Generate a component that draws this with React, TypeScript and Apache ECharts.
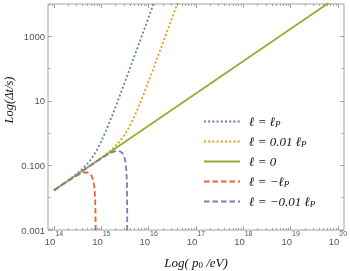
import React, { useEffect, useRef } from 'react';
import * as echarts from 'echarts';

// ---------- data ----------
// photon momentum p0 [eV]  ->  time delay Δt [s]
const P_PLUS_LP = [1e14, 1.585e14, 2.512e14, 3.162e14, 3.981e14, 5.012e14, 6.31e14, 7.943e14, 1e15, 1.259e15, 1.585e15, 1.995e15, 2.512e15, 3.162e15, 3.981e15, 5.012e15, 6.31e15, 7.943e15, 1e16, 1.259e16, 1.585e16];
const T_PLUS_LP = [0.017, 0.0272, 0.0442, 0.0576, 0.0774, 0.11, 0.169, 0.29, 0.559, 1.19, 2.72, 6.51, 15.9, 39.4, 98.4, 246, 618, 1550, 3890, 9770, 24600];

const P_PLUS_001 = [1e14, 3.162e14, 6.31e14, 1e15, 1.259e15, 1.585e15, 1.995e15, 2.512e15, 3.162e15, 3.981e15, 5.012e15, 6.31e15, 7.943e15, 1e16, 1.259e16, 1.585e16, 1.995e16, 2.512e16, 3.162e16, 3.981e16, 5.012e16];
const T_PLUS_001 = [0.017, 0.0537, 0.108, 0.174, 0.224, 0.294, 0.4, 0.581, 0.925, 1.65, 3.3, 7.22, 16.8, 40.5, 99.6, 248, 619, 1550, 3890, 9760, 24500];

const P_ZERO = [1e14, 1e20];
const T_ZERO = [0.017, 17000];

const P_MINUS_LP = [1e14, 1.585e14, 2.512e14, 3.162e14, 3.981e14, 4.467e14, 5.012e14, 5.623e14, 5.957e14, 6.31e14, 6.761e14, 7.079e14, 7.244e14, 7.413e14, 7.499e14, 7.551e14, 7.577e14];
const T_MINUS_LP = [0.0169, 0.0267, 0.0411, 0.0498, 0.0578, 0.0604, 0.0606, 0.0566, 0.0522, 0.0455, 0.0335, 0.0225, 0.0159, 0.0084, 0.00433, 0.00176, 0.00045];

const P_MINUS_001 = [1e14, 3.162e14, 1e15, 1.259e15, 1.585e15, 1.778e15, 1.995e15, 2.239e15, 2.512e15, 2.818e15, 2.985e15, 3.162e15, 3.311e15, 3.388e15, 3.467e15, 3.499e15, 3.516e15, 3.522e15];
const T_MINUS_001 = [0.017, 0.0537, 0.166, 0.204, 0.245, 0.263, 0.277, 0.283, 0.272, 0.234, 0.199, 0.149, 0.0957, 0.0637, 0.0278, 0.0122, 0.00411, 0.00083];

const SERIES_NAMES = ['ℓ = ℓP', 'ℓ = 0.01 ℓP', 'ℓ = 0', 'ℓ = −ℓP', 'ℓ = −0.01 ℓP'];
const SERIES_COLORS = ['#5E81B5', '#E19C24', '#8FB032', '#EB6235', '#8778B3'];

// ---------- axes ----------
const X_MIN = 7.464e13;
const X_MAX = 1.34e20;
const Y_MIN = 0.001;
const Y_MAX = 10000;
const X_MAJOR_TICKS = [1e14, 1e15, 1e16, 1e17, 1e18, 1e19, 1e20];
const X_TICK_EXPONENTS = ['14', '15', '16', '17', '18', '19', '20'];
const X_MINOR_MULTIPLIERS = [2, 3, 4, 5, 6, 7, 8, 9];
const Y_LABEL_TICKS = [0.001, 0.1, 10, 1000];
const Y_TICK_LABELS = ['0.001', '0.100', '10', '1000'];
const Y_PLAIN_TICKS = [0.01, 1, 100];

const lg = Math.log10;

export default function App() {
  const ref = useRef<HTMLDivElement>(null);

  useEffect(() => {
    if (!ref.current) return;
    const chart = echarts.init(ref.current, undefined, { renderer: 'svg' });

    const xMinorLog: number[] = [];
    for (let e = 13; e <= 20; e++) {
      for (const m of X_MINOR_MULTIPLIERS) {
        const v = lg(m * Math.pow(10, e));
        if (v > lg(X_MIN) && v < lg(X_MAX)) xMinorLog.push(v);
      }
    }
    const xMajorLog = X_MAJOR_TICKS.map(lg);
    const yLabelLog = Y_LABEL_TICKS.map(lg);
    const yPlainLog = Y_PLAIN_TICKS.map(lg);

    const frame = '#a3a3a3';
    const labelColor = '#555';
    const sans = 'Liberation Sans, Arial, sans-serif';
    const serif = 'Liberation Serif, Times New Roman, serif';

    const baseX = {
      type: 'value' as const,
      min: lg(X_MIN),
      max: lg(X_MAX),
      axisLine: { show: false, onZero: false },
      splitLine: { show: false },
    };
    const baseY = {
      type: 'value' as const,
      min: lg(Y_MIN),
      max: lg(Y_MAX),
      axisLine: { show: false, onZero: false },
      splitLine: { show: false },
    };
    const tick = (vals: number[], len: number) => ({
      show: true,
      inside: true,
      length: len,
      customValues: vals,
      lineStyle: { color: frame, width: 1 },
    });

    const pairs = (p: number[], t: number[]) => p.map((v, i) => [lg(v), lg(t[i])]);
    const dataSets = [
      pairs(P_PLUS_LP, T_PLUS_LP),
      pairs(P_PLUS_001, T_PLUS_001),
      pairs(P_ZERO, T_ZERO),
      pairs(P_MINUS_LP, T_MINUS_LP),
      pairs(P_MINUS_001, T_MINUS_001),
    ];
    const lineTypes: any[] = [[2, 2.2], [2, 2.2], 'solid', [5.5, 3], [5.5, 3]];

    chart.setOption({
      animation: false,
      grid: {
        left: 48,
        right: 6,
        top: 4,
        bottom: 41,
        show: true,
        borderColor: frame,
        borderWidth: 1,
        backgroundColor: 'transparent',
        containLabel: false,
        outerBoundsMode: 'none',
      },
      xAxis: [
        {
          ...baseX,
          position: 'bottom',
          axisTick: tick(xMajorLog, 4),
          axisLabel: {
            customValues: xMajorLog,
            margin: 0,
            formatter: (v: number) => {
              const i = xMajorLog.findIndex((t) => Math.abs(t - v) < 1e-6);
              return i < 0 ? '' : `{b|10}{s|${X_TICK_EXPONENTS[i]}}`;
            },
            rich: {
              b: { fontSize: 9.5, fontFamily: sans, color: labelColor, lineHeight: 16, verticalAlign: 'bottom' },
              s: { fontSize: 7, fontFamily: sans, color: labelColor, lineHeight: 8, verticalAlign: 'top' },
            },
          },
          name: 'Log( p{sub|0} /eV)',
          nameLocation: 'middle',
          nameGap: 26,
          nameMoveOverlap: false,
          nameTextStyle: {
            fontFamily: serif,
            fontStyle: 'italic',
            fontSize: 13,
            color: '#111',
            rich: {
              sub: { fontFamily: serif, fontStyle: 'normal', fontSize: 9, color: '#111', verticalAlign: 'bottom', lineHeight: 10 },
            },
          },
        },
        { ...baseX, position: 'bottom', axisTick: tick(xMinorLog, 2), axisLabel: { show: false } },
        { ...baseX, position: 'top', axisTick: tick(xMajorLog, 4), axisLabel: { show: false } },
        { ...baseX, position: 'top', axisTick: tick(xMinorLog, 2), axisLabel: { show: false } },
      ],
      yAxis: [
        {
          ...baseY,
          position: 'left',
          axisTick: tick(yLabelLog, 4),
          axisLabel: {
            customValues: yLabelLog,
            margin: 3,
            fontSize: 9.5,
            fontFamily: sans,
            color: labelColor,
            formatter: (v: number) => {
              const i = yLabelLog.findIndex((t) => Math.abs(t - v) < 1e-6);
              return i < 0 ? '' : Y_TICK_LABELS[i];
            },
          },
          name: 'Log(Δt/s)',
          nameLocation: 'middle',
          nameGap: 33,
          nameMoveOverlap: false,
          nameTextStyle: {
            fontFamily: serif,
            fontStyle: 'italic',
            fontSize: 12.5,
            color: '#111',
            padding: [0, 0, 0, 34],
          },
        },
        { ...baseY, position: 'left', axisTick: tick(yPlainLog, 2.5), axisLabel: { show: false } },
        { ...baseY, position: 'right', axisTick: tick(yLabelLog, 4), axisLabel: { show: false } },
        { ...baseY, position: 'right', axisTick: tick(yPlainLog, 2.5), axisLabel: { show: false } },
      ],
      legend: {
        orient: 'vertical',
        left: 203,
        top: 115,
        padding: 0,
        itemWidth: 36,
        itemHeight: 8,
        itemGap: 7,
        itemStyle: { opacity: 0 },
        data: SERIES_NAMES,
        formatter: (name: string) => name.replace(/ℓP/g, 'ℓ{s|P}'),
        textStyle: {
          fontFamily: serif,
          fontStyle: 'italic',
          fontSize: 13,
          color: '#111',
          padding: [0, 0, 0, 4],
          rich: {
            s: { fontFamily: serif, fontStyle: 'italic', fontSize: 9, color: '#111', verticalAlign: 'bottom', lineHeight: 12 },
          },
        },
      },
      series: dataSets.map((d, i) => ({
        name: SERIES_NAMES[i],
        type: 'line',
        xAxisIndex: 0,
        yAxisIndex: 0,
        data: d,
        symbol: 'none',
        showSymbol: false,
        clip: true,
        lineStyle: { color: SERIES_COLORS[i], width: 1.8, type: lineTypes[i] },
        itemStyle: { color: SERIES_COLORS[i] },
      })),
    });

    return () => chart.dispose();
  }, []);

  return <div ref={ref} style={{ position: 'fixed', left: 0, top: 0, width: 350, height: 271 }} />;
}
